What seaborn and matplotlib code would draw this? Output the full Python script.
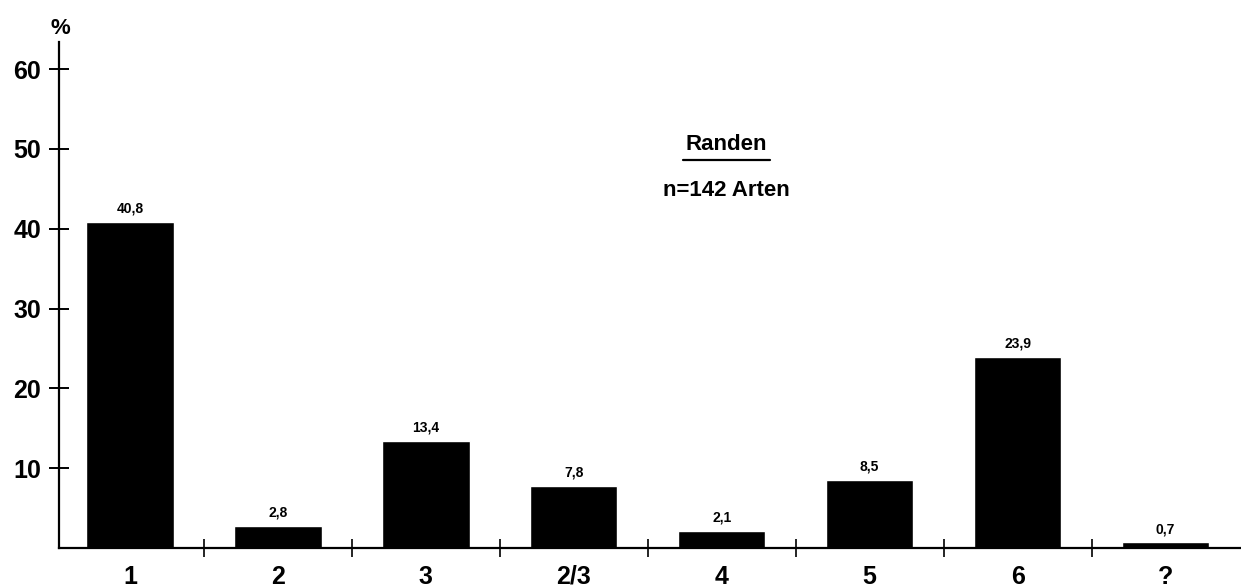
# Bar chart: share of species per category, Randen (n=142)

import numpy as np
import pandas as pd
import seaborn as sns
import matplotlib.pyplot as plt
from matplotlib.ticker import FixedLocator

sns.set_theme(style="white")
plt.rcParams['font.family'] = ['Liberation Sans', 'DejaVu Sans']
plt.rcParams['text.color'] = 'black'
plt.rcParams['xtick.color'] = 'black'
plt.rcParams['ytick.color'] = 'black'

categories = ["1", "2", "3", "2/3", "4", "5", "6", "?"]
shares = [40.8, 2.8, 13.4, 7.8, 2.1, 8.5, 23.9, 0.7]
share_labels = ["40,8", "2,8", "13,4", "7,8", "2,1", "8,5", "23,9", "0,7"]
yticks = [10, 20, 30, 40, 50, 60]

d = pd.DataFrame({"kat": categories, "anteil": shares})

fig = plt.figure(figsize=(12.41, 5.87), dpi=100)
ax = fig.add_axes([59/1241, 1 - 548/587, 1 - 59/1241, (548 - 42)/587])
fig.patch.set_facecolor("white")
ax.set_facecolor("white")

sns.barplot(data=d, x="kat", y="anteil", order=categories, color="black",
            width=0.59, saturation=1, ax=ax)

for i, (v, lab) in enumerate(zip(shares, share_labels)):
    ax.text(i, v + 0.8, lab, ha="center", va="bottom", fontsize=10,
            fontweight="bold", color="black")

ax.set_xlim(-0.48, 7.51)
ax.set_ylim(0, 63.4)

for side in ["top", "right"]:
    ax.spines[side].set_visible(False)
for side in ["left", "bottom"]:
    ax.spines[side].set_linewidth(1.6)
    ax.spines[side].set_color("black")

ax.set_yticks(yticks)
ax.set_yticklabels([str(t) for t in yticks], fontsize=18, fontweight="bold",
                   color="black")
ax.tick_params(axis="y", direction="inout", length=14, width=1.4,
               color="black", pad=6, left=True)

# category labels on minor ticks, separators on major ticks
ax.xaxis.set_major_locator(FixedLocator(np.arange(len(categories) - 1) + 0.5))
ax.xaxis.set_minor_locator(FixedLocator(np.arange(len(categories))))
ax.set_xticklabels([], minor=False)
ax.set_xticklabels(categories, minor=True, fontsize=18, fontweight="bold",
                   color="black")
ax.tick_params(axis="x", which="major", direction="inout", length=13,
               width=1.2, color="black", bottom=True)
ax.tick_params(axis="x", which="minor", length=0, pad=12, bottom=True)

ax.set_xlabel("")
ax.set_ylabel("")

fig.text(60/1241, 1 - 28/587, "%", ha="center", va="center", fontsize=16,
         fontweight="bold")

fig.text(726/1241, 1 - 145/587, "Randen", ha="center", va="center",
         fontsize=16, fontweight="bold")
fig.add_artist(plt.Line2D([683/1241, 770/1241], [1 - 160/587, 1 - 160/587],
                          color="black", linewidth=1.6))
fig.text(726/1241, 1 - 190/587, "n=142 Arten", ha="center", va="center",
         fontsize=16, fontweight="bold")

plt.savefig("out.png", dpi=100)
